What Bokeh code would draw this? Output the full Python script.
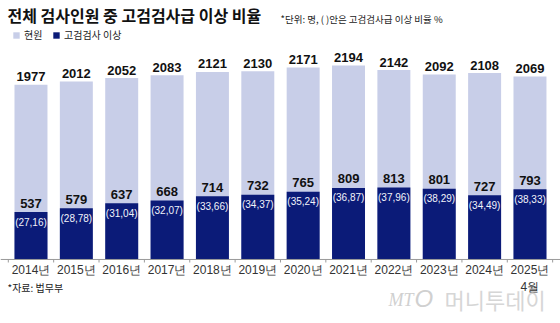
from bokeh.plotting import figure
from bokeh.models import ColumnDataSource, Label, Legend, LegendItem, Range1d
from bokeh.core.properties import value
from bokeh.embed import file_html
from bokeh.resources import INLINE

years = ["2014년", "2015년", "2016년", "2017년", "2018년", "2019년",
         "2020년", "2021년", "2022년", "2023년", "2024년", "2025년\n4월"]
total = [1977, 2012, 2052, 2083, 2121, 2130, 2171, 2194, 2142, 2092, 2108, 2069]
senior = [537, 579, 637, 668, 714, 732, 765, 809, 813, 801, 727, 793]
ratio = ["(27,16)", "(28,78)", "(31,04)", "(32,07)", "(33,66)", "(34,37)",
         "(35,24)", "(36,87)", "(37,96)", "(38,29)", "(34,49)", "(38,33)"]

LIGHT = "#c8cee8"
NAVY = "#0b1b78"
NUM_FONT = "Liberation Sans"
KR_FONT = "Noto Sans CJK KR"

xs = list(range(len(years)))
src = ColumnDataSource(dict(x=xs, year=years, total=total, senior=senior,
                            ratio=ratio, total_lbl=[str(v) for v in total],
                            senior_lbl=[str(v) for v in senior],
                            zero=[0] * len(xs)))

p = figure(width=560, height=323, output_backend="svg", toolbar_location=None,
           x_axis_type=None, y_axis_type=None, min_border=0,
           x_range=Range1d(-0.672, 11.673), y_range=Range1d(-724, 2929))
p.outline_line_color = None
p.grid.visible = False
p.background_fill_color = "white"

r1 = p.vbar(x="x", top="total", width=0.727, source=src, fill_color=LIGHT, line_color=None)
r2 = p.vbar(x="x", top="senior", width=0.727, source=src, fill_color=NAVY, line_color=None)

# baseline and boundary ticks
p.segment(x0=[-0.672], y0=[0], x1=[11.673], y1=[0], line_color="#9a9a9a", line_width=1)
bounds = [i + 0.5 for i in range(-1, len(xs))]
p.segment(x0=bounds, y0=[0] * len(bounds), x1=bounds, y1=[-34] * len(bounds),
          line_color="#9a9a9a", line_width=1)

p.text(x="x", y="total", text="total_lbl", source=src, text_align="center",
       text_baseline="middle", y_offset=-8, text_font=value(NUM_FONT),
       text_font_size="13px", text_font_style="bold", text_color="#111111")
p.text(x="x", y="senior", text="senior_lbl", source=src, text_align="center",
       text_baseline="middle", y_offset=-9, text_font=value(NUM_FONT),
       text_font_size="13px", text_font_style="bold", text_color="#111111")
p.text(x="x", y="senior", text="ratio", source=src, text_align="center",
       text_baseline="middle", y_offset=10, text_font=value(NUM_FONT),
       text_font_size="10px", text_color="#f2f3fa")
p.text(x="x", y="zero", text="year", source=src, text_align="center",
       text_baseline="top", y_offset=4, text_font=value(NUM_FONT),
       text_font_size="12px", text_color="#333333", text_line_height=1.15)

H = 323
p.add_layout(Label(x=7, y=H - 14, x_units="screen", y_units="screen",
                   text="전체 검사인원 중 고검검사급 이상 비율", text_font=KR_FONT,
                   text_font_size="16px", text_font_style="bold", text_color="#111111",
                   text_baseline="middle"))
p.add_layout(Label(x=280, y=H - 18, x_units="screen", y_units="screen",
                   text="*단위: 명, ( )안은 고검검사급 이상 비율 %", text_font=KR_FONT,
                   text_font_size="9.5px", text_color="#222222", text_baseline="middle"))
p.add_layout(Label(x=7, y=H - 287, x_units="screen", y_units="screen",
                   text="*자료: 법무부", text_font=KR_FONT,
                   text_font_size="10px", text_color="#222222", text_baseline="middle"))

# watermark
p.add_layout(Label(x=388, y=H - 299, x_units="screen", y_units="screen",
                   text="MT", text_font="Liberation Serif", text_font_style="italic",
                   text_font_size="18px", text_color="#d0d0d0", text_baseline="middle"))
p.add_layout(Label(x=414, y=H - 298, x_units="screen", y_units="screen",
                   text="O", text_font="Liberation Sans", text_font_style="italic",
                   text_font_size="24px", text_color="#d0d0d0", text_baseline="middle"))
p.add_layout(Label(x=444, y=H - 298, x_units="screen", y_units="screen",
                   text="머니투데이", text_font=KR_FONT,
                   text_font_size="22px", text_color="#d6d6d6", text_baseline="middle"))

legend = Legend(items=[LegendItem(label="현원", renderers=[r1]),
                       LegendItem(label="고검검사 이상", renderers=[r2])],
                location=(12, H - 42), orientation="horizontal",
                glyph_width=8, glyph_height=8, label_height=10, label_standoff=4,
                spacing=8, padding=0, margin=0, border_line_color=None,
                background_fill_alpha=0, label_text_font=KR_FONT,
                label_text_font_size="10px", label_text_color="#222222")
p.add_layout(legend)

open("out.html", "w").write(file_html(p, INLINE))
